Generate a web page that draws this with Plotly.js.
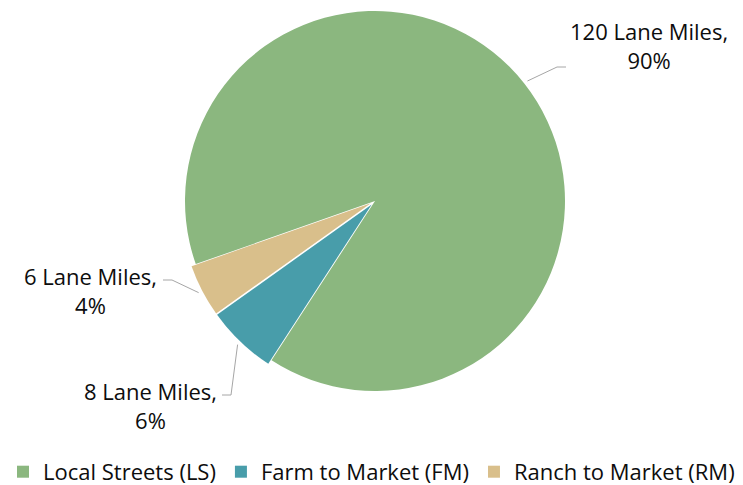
<!DOCTYPE html>
<html><head><meta charset="utf-8">
<script src="https://cdn.plot.ly/plotly-3.0.1.min.js"></script>
<style>html,body{margin:0;padding:0;background:#fff}#chart{width:743px;height:485px}</style>
</head><body><div id="chart"></div>
<script>
const categories = ["Local Streets (LS)", "Farm to Market (FM)", "Ranch to Market (RM)"];
const laneMiles = [120, 8, 6];
const percentLabels = ["90%", "6%", "4%"];
const colors = ["#8BB77F", "#489DAA", "#D9BF8B"];
const pulls = [0, 0.025, 0.025];

const W = 743, H = 485;
const cx = 375, cy = 201, R = 190;
const rotation = 250.6;
const maxPull = Math.max(...pulls);
const half = R * (1 + maxPull);

const total = laneMiles.reduce((a, b) => a + b, 0);
// label positions (pixel) and leader elbows, in category order
const labelPos = [[649, 45], [150, 405], [90, 290]];
const elbows = [[[566, 67], [557, 67]], [[222, 395], [231, 395]], [[163, 280], [172, 280]]];

let cum = 0;
const annotations = [], shapes = [];
laneMiles.forEach((v, i) => {
  const mid = (rotation + 360 * (cum + v / 2) / total) * Math.PI / 180;
  cum += v;
  const rr = R * (1 + pulls[i]) + 4;
  const ax = cx + rr * Math.sin(mid), ay = cy - rr * Math.cos(mid);
  const pts = [elbows[i][0], elbows[i][1], [ax, ay]];
  const d = pts.map((p, k) => (k ? 'L' : 'M') + (p[0] / W) + ',' + (1 - p[1] / H)).join(' ');
  shapes.push({type: 'path', xref: 'paper', yref: 'paper', path: d, line: {color: '#A6A6A6', width: 1}});
  annotations.push({
    xref: 'paper', yref: 'paper', x: labelPos[i][0] / W, y: 1 - labelPos[i][1] / H,
    xanchor: 'center', yanchor: 'middle', align: 'center', showarrow: false,
    text: laneMiles[i] + ' Lane Miles,<br>' + percentLabels[i],
    font: {family: 'Open Sans, sans-serif', size: 22, color: '#0d0d0d'}
  });
});

const data = [{
  type: 'pie', labels: categories, values: laneMiles, sort: false,
  direction: 'clockwise', rotation: rotation, pull: pulls,
  marker: {colors: colors, line: {width: 0}},
  textinfo: 'none', hoverinfo: 'label+value+percent',
  domain: {x: [(cx - half) / W, (cx + half) / W], y: [1 - (cy + half) / H, 1 - (cy - half) / H]}
}];

const layout = {
  width: W, height: H, margin: {l: 0, r: 0, t: 0, b: 0, autoexpand: false},
  paper_bgcolor: '#fff', plot_bgcolor: '#fff',
  showlegend: true,
  legend: {orientation: 'h', x: 0.5, xanchor: 'center', y: 0.027, yanchor: 'middle',
    font: {family: 'Open Sans, sans-serif', size: 22, color: '#0d0d0d'}, itemwidth: 30, traceorder: 'normal'},
  annotations: annotations, shapes: shapes
};
Plotly.newPlot('chart', data, layout, {displayModeBar: false, staticPlot: true});
</script></body></html>
